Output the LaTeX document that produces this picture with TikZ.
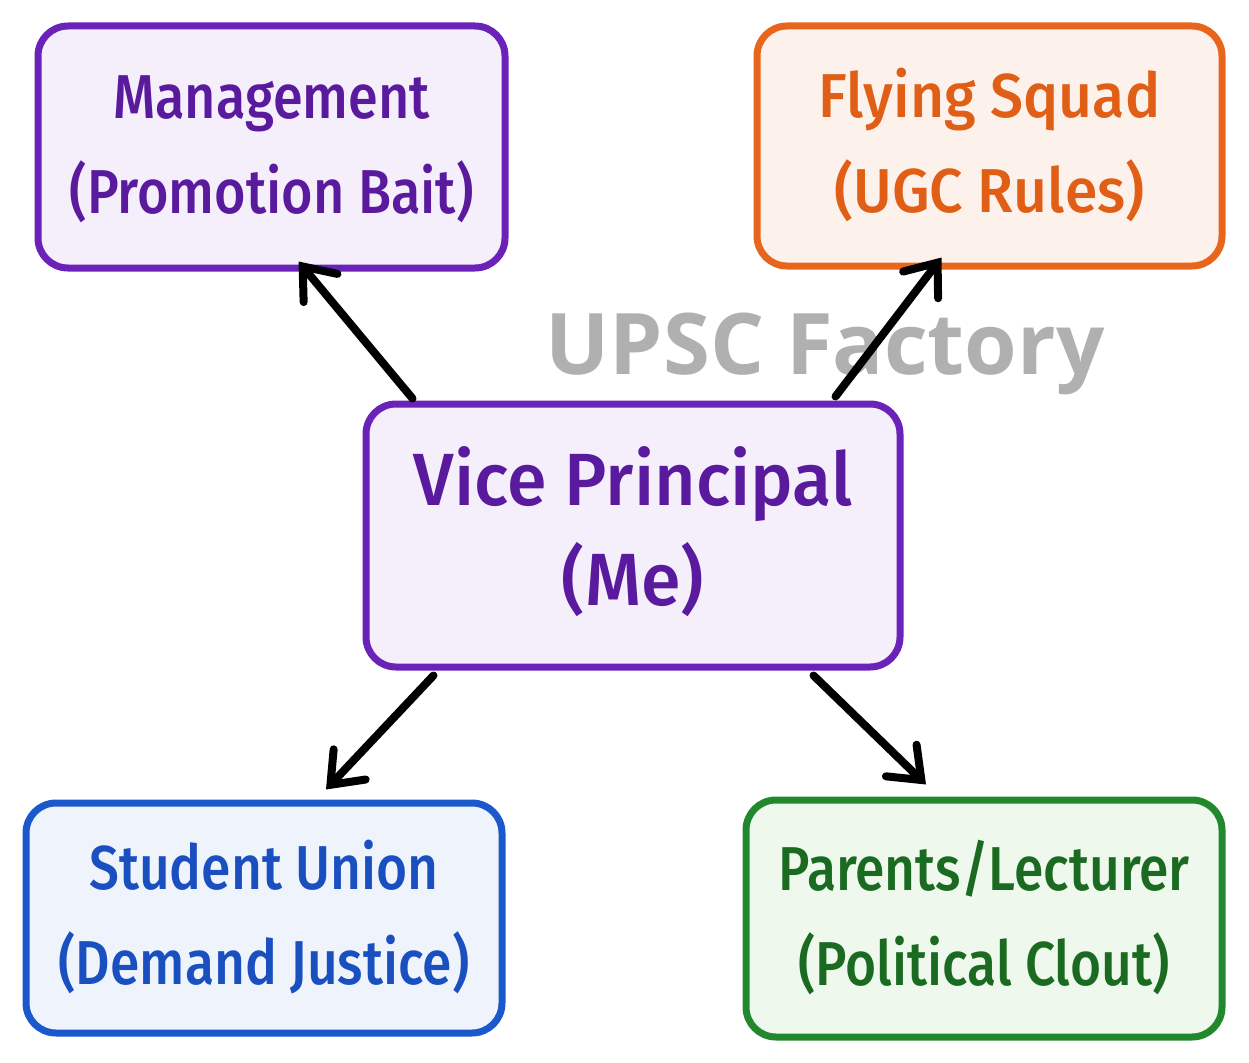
\documentclass[tikz,border=0pt]{standalone}
\usepackage{fontspec}
\usepackage{graphicx}
\setmainfont{Fira Sans}[UprightFont={* Medium}]
\newfontfamily\wmfont{Open Sans}
\usetikzlibrary{arrows.meta,calc}
\definecolor{pstroke}{HTML}{6A22B8}
\definecolor{pfill}{HTML}{F4EFFB}
\definecolor{ptext}{HTML}{5A1A9E}
\definecolor{ostroke}{HTML}{E8661C}
\definecolor{ofill}{HTML}{FDF2EB}
\definecolor{otext}{HTML}{E05E15}
\definecolor{bstroke}{HTML}{1B58CC}
\definecolor{bfill}{HTML}{EEF3FC}
\definecolor{btext}{HTML}{1A4FC0}
\definecolor{gstroke}{HTML}{22882E}
\definecolor{gfill}{HTML}{EFF8EC}
\definecolor{gtext}{HTML}{1B6A22}
\definecolor{wmgray}{HTML}{B0B0B0}
\newcommand\twolines[3][0.9]{\scalebox{#1}[1]{\begin{tabular}{@{}c@{}}#2\\#3\end{tabular}}}
\tikzset{
  box/.style={draw, rounded corners=30pt, line width=7pt, align=center, inner sep=0pt,
    font=\fontsize{62}{95}\selectfont},
  conn/.style={line width=8pt, line cap=round,
    -{Straight Barb[length=28pt,width=44pt,line cap=round]}},
}
\begin{document}
\begin{tikzpicture}[x=1pt,y=-1pt]
\useasboundingbox[fill=white] (0,0) rectangle (1249,1062);
% boxes
\node[box, draw=pstroke, fill=pfill, text=ptext, minimum width=467pt, minimum height=242pt] (mgmt) at (271.5,147) {\raisebox{-6pt}{\twolines[0.87]{Management}{(Promotion Bait)}}};
\node[box, draw=ostroke, fill=ofill, text=otext, minimum width=465pt, minimum height=240pt] (fly) at (989.5,146) {\raisebox{-6pt}{\twolines[0.95]{Flying Squad}{(UGC Rules)}}};
\node[box, draw=pstroke, fill=pfill, text=ptext, minimum width=534pt, minimum height=263pt, font=\fontsize{74}{100}\selectfont] (vp) at (633,535.5) {\raisebox{-5pt}{\twolines[0.97]{Vice Principal}{(Me)}}};
\node[box, draw=bstroke, fill=bfill, text=btext, minimum width=476pt, minimum height=230pt] (su) at (264,918) {\raisebox{-2pt}{\twolines[0.86]{Student Union}{(Demand Justice)}}};
\node[box, draw=gstroke, fill=gfill, text=gtext, minimum width=476pt, minimum height=237pt] (pl) at (984,918.5) {\raisebox{-2pt}{\twolines[0.86]{Parents/Lecturer}{(Political Clout)}}};
% watermark
\node[text=wmgray, font=\wmfont\bfseries\fontsize{85}{90}\selectfont] (wm) at (825,354) {UPSC Factory};
% connector ends
\coordinate (a1s) at ($(vp.north west)+(50,-2)$);  \coordinate (a1e) at ($(mgmt.south)+(27,-10)$);
\coordinate (a2s) at ($(vp.north east)+(-68,-4)$); \coordinate (a2e) at ($(fly.south)+(-48,-12)$);
\coordinate (a3s) at ($(vp.south west)+(71,5)$);   \coordinate (a3e) at ($(su.north)+(62,-10)$);
\coordinate (a4s) at ($(vp.south east)+(-90,5)$);  \coordinate (a4e) at ($(pl.north)+(-58,-12)$);
\draw[conn] (a1s) -- (a1e);
\draw[conn] (a2s) -- (a2e);
\draw[conn] (a3s) -- (a3e);
\draw[conn] (a4s) -- (a4e);
\end{tikzpicture}
\end{document}
